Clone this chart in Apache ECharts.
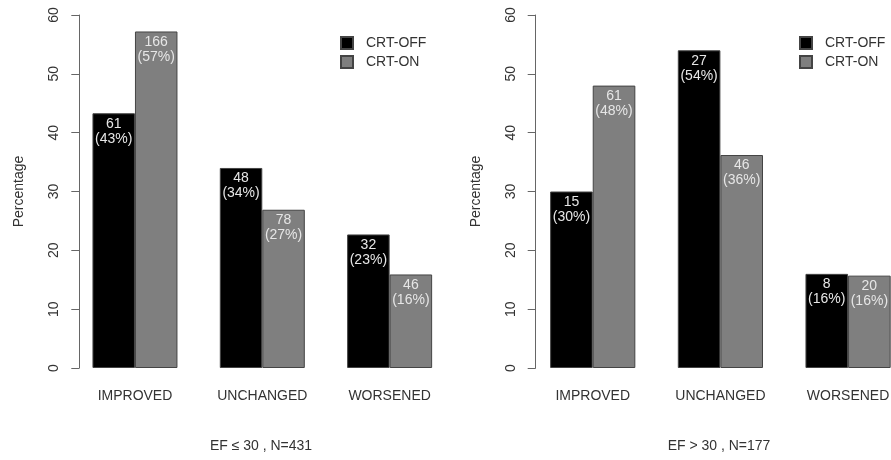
<!DOCTYPE html>
<html>
<head>
<meta charset="utf-8">
<script src="https://cdn.jsdelivr.net/npm/echarts@6/dist/echarts.min.js"></script>
<style>html,body{margin:0;padding:0;background:#fff;}#c{width:891px;height:460px;}</style>
</head>
<body>
<div id="c"></div>
<script>
const categories = ['IMPROVED', 'UNCHANGED', 'WORSENED'];
const seriesNames = ['CRT-OFF', 'CRT-ON'];
const yTicks = [0, 10, 20, 30, 40, 50, 60];
// Left panel: EF <= 30
const leftOffPct = [43.3, 34.0, 22.7];
const leftOnPct = [57.2, 26.9, 15.9];
const leftOffN = [61, 48, 32];
const leftOnN = [166, 78, 46];
// Right panel: EF > 30
const rightOffPct = [30.0, 54.0, 16.0];
const rightOnPct = [48.0, 36.2, 15.7];
const rightOffN = [15, 27, 8];
const rightOnN = [61, 46, 20];
const titles = ['EF \u2264 30 , N=431', 'EF > 30 , N=177'];

const FONT = 'Liberation Sans, Arial, Helvetica, sans-serif';
const TXT = '#333';
const colors = ['#000000', '#7f7f7f'];

function yAxis(gridIndex, offset) {
  return {
    type: 'value', gridIndex, min: yTicks[0], max: yTicks[yTicks.length - 1], interval: 10,
    offset,
    name: 'Percentage', nameLocation: 'middle', nameGap: 53,
    nameTextStyle: { color: TXT, fontSize: 14, fontFamily: FONT },
    axisLine: { show: true, lineStyle: { color: '#666', width: 1 } },
    axisTick: { show: true, length: 8, lineStyle: { color: '#666' } },
    axisLabel: { rotate: 90, margin: 18, color: TXT, fontSize: 14, fontFamily: FONT },
    splitLine: { show: false }
  };
}
function xAxis(gridIndex) {
  return {
    type: 'category', gridIndex, data: categories,
    axisLine: { show: false }, axisTick: { show: false },
    axisLabel: { margin: 21, color: TXT, fontSize: 14, fontFamily: FONT }
  };
}
function barSeries(name, idx, xi, vals, counts, bw) {
  return {
    type: 'bar', name, xAxisIndex: xi, yAxisIndex: xi, data: vals,
    barWidth: bw, barGap: '0%',
    itemStyle: { color: colors[idx], borderColor: '#444', borderWidth: 1 },
    label: {
      show: true, position: 'insideTop', distance: 3,
      color: '#e6e6e6', fontSize: 14, lineHeight: 15, fontFamily: FONT,
      formatter: p => counts[p.dataIndex] + '\n(' + Math.round(vals[p.dataIndex]) + '%)'
    },
    emphasis: { disabled: true }
  };
}
function legend(left) {
  return {
    left, top: 36, padding: 0, orient: 'vertical', icon: 'rect', itemWidth: 12, itemHeight: 12, itemGap: 5,
    data: seriesNames,
    textStyle: { color: TXT, fontSize: 14, fontFamily: FONT, padding: [0, 0, 0, 8] }
  };
}

const chart = echarts.init(document.getElementById('c'));
chart.setOption({
  animation: false,
  grid: [
    { left: 71.3, top: 15, width: 382, height: 353, outerBoundsMode: 'none' },
    { left: 528.9, top: 15, width: 383, height: 353, outerBoundsMode: 'none' }
  ],
  xAxis: [xAxis(0), xAxis(1)],
  yAxis: [yAxis(0, -8), yAxis(1, -6.8)],
  legend: [legend(340), legend(799)],
  series: [
    barSeries(seriesNames[0], 0, 0, leftOffPct, leftOffN, 42.5),
    barSeries(seriesNames[1], 1, 0, leftOnPct, leftOnN, 42.5),
    barSeries(seriesNames[0], 0, 1, rightOffPct, rightOffN, 42.6),
    barSeries(seriesNames[1], 1, 1, rightOnPct, rightOnN, 42.6)
  ],
  graphic: [
    { type: 'text', x: 261, y: 446, style: { text: titles[0], fill: TXT, font: '14px ' + FONT, textAlign: 'center', textVerticalAlign: 'middle' } },
    { type: 'text', x: 719, y: 446, style: { text: titles[1], fill: TXT, font: '14px ' + FONT, textAlign: 'center', textVerticalAlign: 'middle' } }
  ]
});
</script>
</body>
</html>
